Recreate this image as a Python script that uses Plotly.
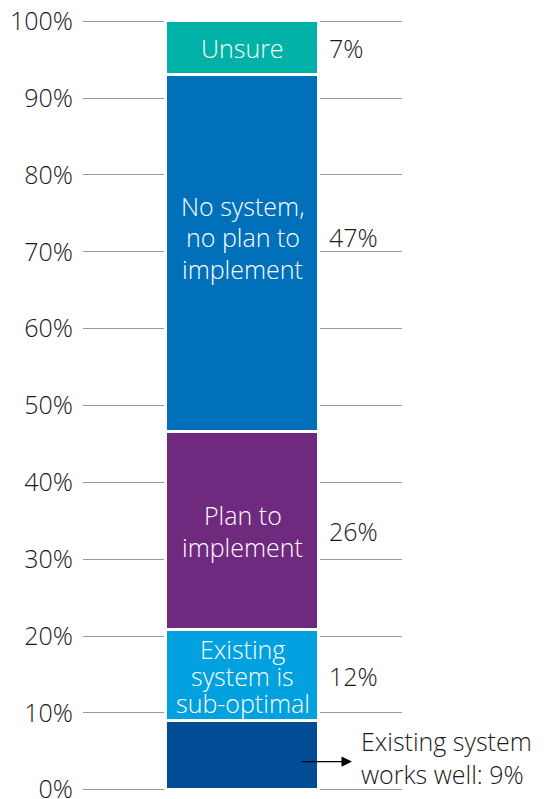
import plotly.graph_objects as go

# Survey responses, stacked bottom to top
categories = [
    "Existing system works well",
    "Existing system is sub-optimal",
    "Plan to implement",
    "No system, no plan to implement",
    "Unsure",
]
inner_labels = [
    [],
    ["Existing", "system is", "sub-optimal"],
    ["Plan to", "implement"],
    ["No system,", "no plan to", "implement"],
    ["Unsure"],
]
values = [9, 12, 26, 47, 7]
colors = ["#014C94", "#00A1DE", "#6F2A7F", "#0170BB", "#00B1A8"]
tick_values = list(range(0, 101, 10))
tick_labels = [f"{t}%" for t in tick_values]

FONT = "Open Sans"
TEXT = "#1a1a1a"
BAR_W = 0.48
FS = 25

total = sum(values)
shares = [v * 100.0 / total for v in values]

fig = go.Figure()
bases = []
acc = 0.0
for name, share, col in zip(categories, shares, colors):
    bases.append(acc)
    fig.add_trace(go.Bar(
        x=[0], y=[share], name=name, width=BAR_W,
        marker=dict(color=col, line=dict(color="white", width=3)),
        showlegend=False, hoverinfo="name",
    ))
    acc += share

# per-segment label nudges and line pitch (pixels)
yshift = {3: 16}
pitch = {1: 27}

annotations = []
for i, (lines, v, share, b) in enumerate(zip(inner_labels, values, shares, bases)):
    if not lines:
        continue
    mid = b + share / 2
    dy = yshift.get(i, 0)
    p = pitch.get(i, 31.5)
    n = len(lines)
    for k, line in enumerate(lines):
        annotations.append(dict(
            x=0, y=mid, text=line, showarrow=False, xanchor="center", yanchor="middle",
            font=dict(family=FONT, size=FS, color="white", weight=300),
            yshift=dy + ((n - 1) / 2 - k) * p,
        ))
    annotations.append(dict(
        x=BAR_W / 2, y=mid, text=f"{v}%", showarrow=False, xanchor="left", yanchor="middle",
        xshift=8, font=dict(family=FONT, size=FS, color=TEXT, weight=300), yshift=dy,
    ))

# callout for the bottom segment
mid0 = bases[0] + shares[0] / 2
annotations.append(dict(
    x=0.343, y=mid0 - 0.8, ax=0.18, ay=mid0 - 0.8, axref="x", ayref="y",
    xref="x", yref="y", text="", showarrow=True, arrowhead=2, arrowsize=1.6,
    arrowwidth=1.3, arrowcolor="#000000",
))
annotations.append(dict(
    x=0.366, y=mid0 - 0.2, text=f"Existing system<br>works well: {values[0]}%",
    showarrow=False, xanchor="left", yanchor="middle", align="left",
    font=dict(family=FONT, size=FS, color=TEXT, weight=300),
))

fig.update_layout(
    barmode="stack",
    width=552, height=799,
    margin=dict(l=83, r=150, t=19, b=7, autoexpand=False),
    paper_bgcolor="white", plot_bgcolor="white",
    bargap=0,
    xaxis=dict(range=[-0.5, 0.5], visible=False, fixedrange=True),
    yaxis=dict(
        range=[-0.3, 100.3], tickmode="array", tickvals=tick_values, ticktext=tick_labels,
        showgrid=True, gridcolor="#9a9a9a", gridwidth=1, zeroline=False,
        showline=False, ticks="", ticklabelstandoff=9, ticklabeloverflow="allow",
        automargin=False,
        tickfont=dict(family=FONT, size=FS, color=TEXT, weight=300), fixedrange=True,
    ),
    annotations=annotations,
)

fig.write_html("out.html")
